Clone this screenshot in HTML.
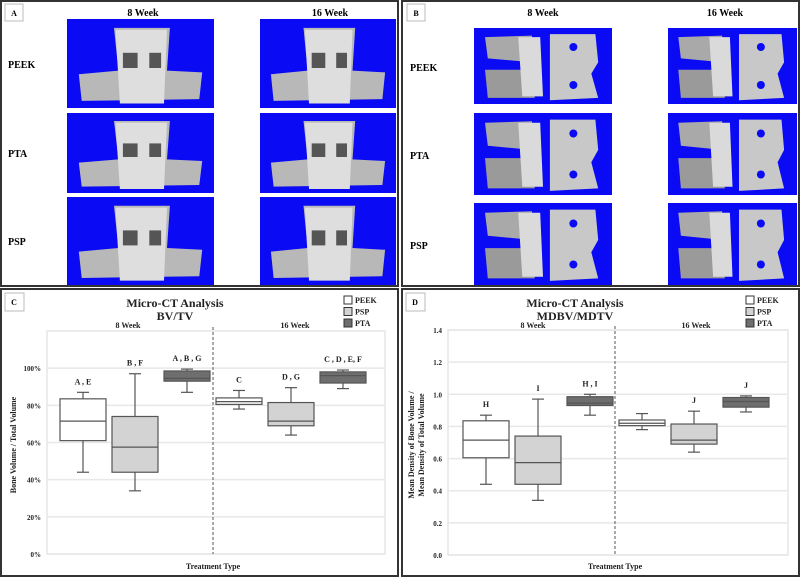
<!DOCTYPE html>
<html><head><meta charset="utf-8"><style>
html,body{margin:0;padding:0;background:#fff;}
svg{display:block;font-family:"Liberation Serif",serif;}
</style></head><body>
<svg id="fig" width="800" height="577" viewBox="0 0 800 577" xmlns="http://www.w3.org/2000/svg">
<rect width="800" height="577" fill="#fff"/>
<g id="panelA">
 <rect x="1" y="1" width="397" height="285" fill="none" stroke="#333" stroke-width="2"/>
 <rect x="5" y="4" width="18" height="17" fill="#fff" stroke="#bbb"/>
 <text x="14" y="16" font-size="8" font-weight="bold" text-anchor="middle">A</text>
 <text x="143" y="16" font-size="10" font-weight="bold" text-anchor="middle">8 Week</text>
 <text x="330" y="16" font-size="10" font-weight="bold" text-anchor="middle">16 Week</text>
 <text x="8" y="68" font-size="10" font-weight="bold">PEEK</text>
 <text x="8" y="157" font-size="10" font-weight="bold">PTA</text>
 <text x="8" y="245" font-size="10" font-weight="bold">PSP</text>
</g>
<g id="panelB">
 <rect x="402" y="1" width="397" height="285" fill="none" stroke="#333" stroke-width="2"/>
 <rect x="407" y="4" width="18" height="17" fill="#fff" stroke="#bbb"/>
 <text x="416" y="16" font-size="8" font-weight="bold" text-anchor="middle">B</text>
 <text x="543" y="16" font-size="10" font-weight="bold" text-anchor="middle">8 Week</text>
 <text x="725" y="16" font-size="10" font-weight="bold" text-anchor="middle">16 Week</text>
 <text x="410" y="71" font-size="10" font-weight="bold">PEEK</text>
 <text x="410" y="159" font-size="10" font-weight="bold">PTA</text>
 <text x="410" y="249" font-size="10" font-weight="bold">PSP</text>
</g>
<g id="panelC">
 <rect x="1" y="289" width="397" height="287" fill="none" stroke="#333" stroke-width="2"/>
 <rect x="5" y="293" width="19" height="18" fill="#fff" stroke="#bbb"/>
 <text x="14" y="305" font-size="8" font-weight="bold" text-anchor="middle">C</text>
</g>
<g id="panelD">
 <rect x="402" y="289" width="397" height="287" fill="none" stroke="#333" stroke-width="2"/>
 <rect x="406" y="293" width="19" height="18" fill="#fff" stroke="#bbb"/>
 <text x="415" y="305" font-size="8" font-weight="bold" text-anchor="middle">D</text>
</g>
</svg>
<script>
var NS="http://www.w3.org/2000/svg";
var svg=document.getElementById('fig');
// Data for panel C (BV/TV, %)
var groupsC=["PEEK 8w","PSP 8w","PTA 8w","PEEK 16w","PSP 16w","PTA 16w"];
var minC=[44,34,87,78,64,89];
var q1C=[61,44,93,80.5,69,92];
var medC=[71.5,57.5,94.5,82,71.5,96];
var q3C=[83.5,74,98.5,84,81.5,98];
var maxC=[87,97,99.5,88,89.5,99];
var lettersC=["A , E","B , F","A , B , G","C","D , G","C , D , E, F"];
var ticksC=[0,20,40,60,80,100];
var tickLabelsC=["0%","20%","40%","60%","80%","100%"];
// Data for panel D (MDBV/MDTV)
var groupsD=["PEEK 8w","PSP 8w","PTA 8w","PEEK 16w","PSP 16w","PTA 16w"];
var minD=[0.44,0.34,0.87,0.78,0.64,0.89];
var q1D=[0.605,0.44,0.93,0.805,0.69,0.92];
var medD=[0.715,0.575,0.945,0.82,0.715,0.955];
var q3D=[0.835,0.74,0.985,0.84,0.815,0.98];
var maxD=[0.87,0.97,1.0,0.88,0.895,0.99];
var lettersD=["H","I","H , I","","J","J"];
var ticksD=[0,0.2,0.4,0.6,0.8,1.0,1.2,1.4];
var tickLabelsD=["0.0","0.2","0.4","0.6","0.8","1.0","1.2","1.4"];
var fills=["#ffffff","#d3d3d3","#6e6e6e","#ffffff","#d3d3d3","#6e6e6e"];

function el(tag,attrs,parent){var e=document.createElementNS(NS,tag);for(var k in attrs)e.setAttribute(k,attrs[k]);(parent||svg).appendChild(e);return e;}
function txt(x,y,s,size,anchor,parent){var t=el('text',{x:x,y:y,'font-size':size,'font-weight':'bold','text-anchor':anchor||'middle','fill':'#222'},parent);t.textContent=s;return t;}

function chart(o){
 var g=el('g',{});
 
 
 function y(v){return o.y0-(v-o.vmin)/(o.vmax-o.vmin)*(o.y0-o.ytop);}
 function x(i){return o.x0+i*o.step;}
 var fr=el('rect',{x:o.left,y:o.ytop,width:o.right-o.left,height:o.y0-o.ytop,fill:'none',stroke:'#e6e6e6','stroke-width':1.5},g);
 
 
 for(var i=0;i<o.ticks.length;i++){
  var gy=y(o.ticks[i]);
  var gl=el('line',{x1:o.left,x2:o.right,y1:gy,y2:gy,stroke:'#e8e8e8','stroke-width':1.5},g);
  
  
  var tl=txt(o.left-6,gy+3,o.tickLabels[i],7,'end',g);
  
  
 }
 var dl=el('line',{x1:o.dash,x2:o.dash,y1:o.ytop-4,y2:o.y0,stroke:'#555','stroke-width':1,'stroke-dasharray':'3,2'},g);
 
 
 var w=o.bw/2;
 for(var i=0;i<o.min.length;i++){
  var cx=x(i),bg=el('g',{},g);
  
  
  var st={stroke:'#555','stroke-width':1.2};
  el('line',Object.assign({x1:cx,x2:cx,y1:y(o.min[i]),y2:y(o.q1[i])},st),bg);
  el('line',Object.assign({x1:cx,x2:cx,y1:y(o.q3[i]),y2:y(o.max[i])},st),bg);
  el('line',Object.assign({x1:cx-6,x2:cx+6,y1:y(o.min[i]),y2:y(o.min[i])},st),bg);
  el('line',Object.assign({x1:cx-6,x2:cx+6,y1:y(o.max[i]),y2:y(o.max[i])},st),bg);
  el('rect',Object.assign({x:cx-w,y:y(o.q3[i]),width:o.bw,height:y(o.q1[i])-y(o.q3[i]),fill:fills[i]},st),bg);
  el('line',Object.assign({x1:cx-w,x2:cx+w,y1:y(o.med[i]),y2:y(o.med[i])},st),bg);
  if(o.letters[i]){var lt=txt(cx,y(o.max[i])-8,o.letters[i],8,'middle',bg);
   
   }
 }
 var t1=txt(o.cx,307,'Micro-CT Analysis',12,'middle',g);
 
 
 var t2=txt(o.cx,320,o.sub,12,'middle',g);
 
 
 var w8=txt(o.w8,328,'8 Week',8,'middle',g);
 
 
 var w16=txt(o.w16,328,'16 Week',8,'middle',g);
 
 
 var xt=txt(o.dash,569,'Treatment Type',8,'middle',g);
 
 
 var yt=el('text',{'font-size':8,'font-weight':'bold','text-anchor':'middle',fill:'#222',transform:'translate('+o.ylx+',445) rotate(-90)'},g);
 
 
 for(var j=0;j<o.ylab.length;j++){var ts=el('tspan',{x:0,dy:j?10:0},yt);ts.textContent=o.ylab[j];}
 var names=['PEEK','PSP','PTA'],lf=['#fff','#d3d3d3','#6e6e6e'];
 for(var k=0;k<3;k++){
  var le=el('g',{},g);
  
  
  el('rect',{x:o.lx,y:296+k*11.5,width:8,height:8,fill:lf[k],stroke:'#333','stroke-width':1},le);
  txt(o.lx+11,303+k*11.5,names[k],8,'start',le);
 }
}
chart({name:'bvtv-chart',groups:groupsC,min:minC,q1:q1C,med:medC,q3:q3C,max:maxC,letters:lettersC,ticks:ticksC,tickLabels:tickLabelsC,
 vmin:0,vmax:120,y0:554,ytop:331,x0:83,step:52,bw:46,left:47,right:385,dash:213,cx:175,sub:'BV/TV',w8:128,w16:295,lx:344,ylx:16,ylab:['Bone Volume / Total Volume']});
chart({name:'mdbv-chart',groups:groupsD,min:minD,q1:q1D,med:medD,q3:q3D,max:maxD,letters:lettersD,ticks:ticksD,tickLabels:tickLabelsD,
 vmin:0,vmax:1.4,y0:555,ytop:330,x0:486,step:52,bw:46,left:448,right:788,dash:615,cx:575,sub:'MDBV/MDTV',w8:533,w16:696,lx:746,ylx:414,ylab:['Mean Density of Bone Volume /','Mean Density of Total Volume']});

function ctImage(x,y,w,h,kind,name){
 var g=el('g',{});
 
 
 el('rect',{x:x,y:y,width:w,height:h,fill:'#0a0af5'},g);
 function P(pts,f){var s=pts.map(function(p){return (x+p[0]*w).toFixed(1)+','+(y+p[1]*h).toFixed(1);}).join(' ');el('polygon',{points:s,fill:f},g);}
 if(kind==='A'){
  P([[0.08,0.62],[0.35,0.58],[0.32,0.1],[0.7,0.1],[0.68,0.58],[0.92,0.6],[0.9,0.9],[0.1,0.92]],'#b8b8b8');
  P([[0.33,0.12],[0.68,0.12],[0.66,0.95],[0.36,0.95]],'#dedede');
  P([[0.38,0.38],[0.48,0.38],[0.48,0.55],[0.38,0.55]],'#555');
  P([[0.56,0.38],[0.64,0.38],[0.64,0.55],[0.56,0.55]],'#555');
 } else {
  P([[0.08,0.12],[0.42,0.1],[0.42,0.45],[0.1,0.4]],'#a9a9a9');
  P([[0.08,0.55],[0.44,0.55],[0.44,0.92],[0.1,0.92]],'#9a9a9a');
  P([[0.55,0.08],[0.88,0.08],[0.9,0.45],[0.85,0.6],[0.9,0.92],[0.55,0.95]],'#c8c8c8');
  P([[0.32,0.12],[0.48,0.12],[0.5,0.9],[0.35,0.9]],'#dadada');
  el('circle',{cx:x+0.72*w,cy:y+0.25*h,r:4,fill:'#0a0af5'},g);
  el('circle',{cx:x+0.72*w,cy:y+0.75*h,r:4,fill:'#0a0af5'},g);
 }
}
var rowsA=[[19,89],[113,80],[197,88]], rowsB=[[28,76],[113,82],[203,82]], rn=['peek','pta','psp'];
for(var r=0;r<3;r++){
 ctImage(67,rowsA[r][0],147,rowsA[r][1],'A','a-8wk-'+rn[r]+'-image');
 ctImage(260,rowsA[r][0],136,rowsA[r][1],'A','a-16wk-'+rn[r]+'-image');
 ctImage(474,rowsB[r][0],138,rowsB[r][1],'B','b-8wk-'+rn[r]+'-image');
 ctImage(668,rowsB[r][0],129,rowsB[r][1],'B','b-16wk-'+rn[r]+'-image');
}
</script>
</body></html>
